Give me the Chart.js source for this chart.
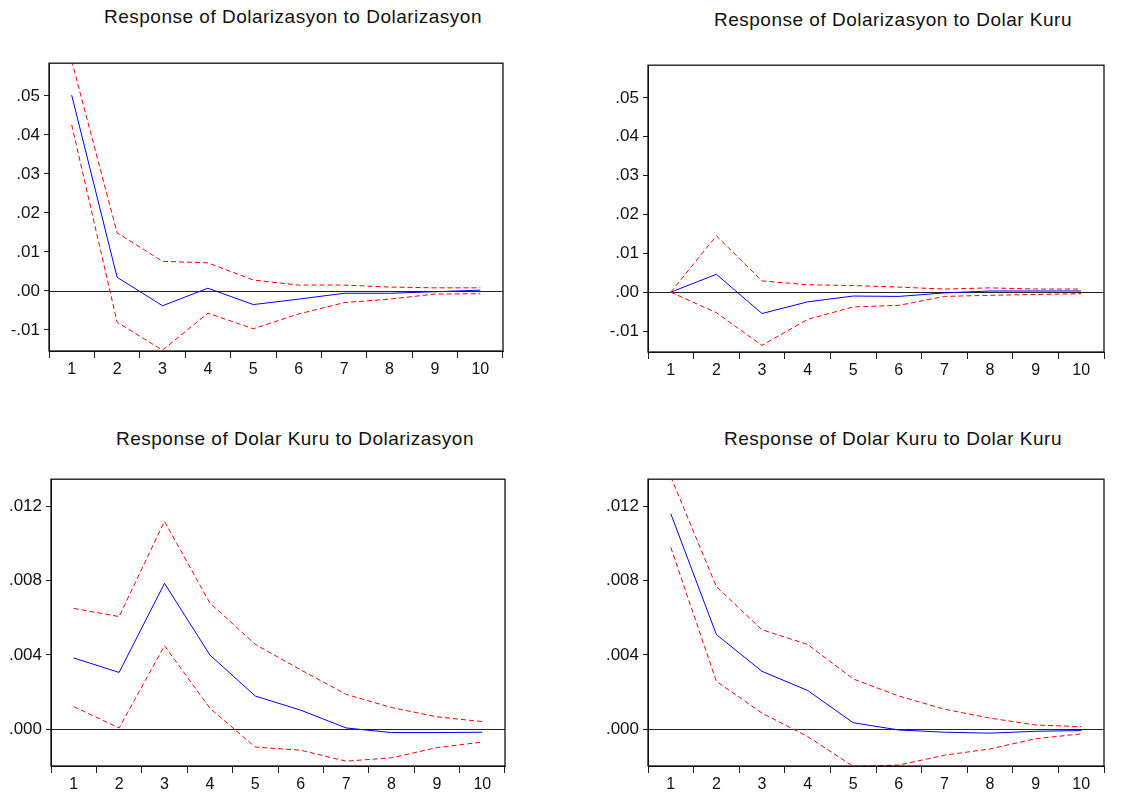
<!DOCTYPE html>
<html>
<head>
<meta charset="utf-8">
<script src="https://cdn.jsdelivr.net/npm/chart.js@4"></script>
<style>
  body { margin: 0; background: #fff; width: 1147px; height: 797px; position: relative; overflow: hidden; }
  canvas { position: absolute; }
  .title {
    position: absolute; width: 500px; text-align: center;
    font-family: "Liberation Sans", Arial, sans-serif; font-size: 19px; line-height: 19px;
    letter-spacing: 0.5px; color: #111; white-space: nowrap;
  }
</style>
</head>
<body>
<div class="title" style="left:43px; top:7px;">Response of Dolarizasyon to Dolarizasyon</div>
<div class="title" style="left:643px; top:10px;">Response of Dolarizasyon to Dolar Kuru</div>
<div class="title" style="left:45px; top:429px;">Response of Dolar Kuru to Dolarizasyon</div>
<div class="title" style="left:643px; top:429px;">Response of Dolar Kuru to Dolar Kuru</div>
<canvas id="c1"></canvas>
<canvas id="c2"></canvas>
<canvas id="c3"></canvas>
<canvas id="c4"></canvas>
<script>
const periods = ['1','2','3','4','5','6','7','8','9','10'];

// Response of Dolarizasyon to Dolarizasyon
const dd_resp  = [0.0502, 0.0035, -0.0038, 0.0007, -0.0035, -0.0021, -0.0006, -0.0006, -0.0002, 0.0002];
const dd_upper = [0.0590, 0.0149, 0.0076, 0.0072, 0.0028, 0.0015, 0.0015, 0.0010, 0.0008, 0.0008];
const dd_lower = [0.0426, -0.0080, -0.0152, -0.0057, -0.0097, -0.0059, -0.0030, -0.0021, -0.0008, -0.0007];

// Response of Dolarizasyon to Dolar Kuru
const dk_resp  = [0, 0.0046, -0.0055, -0.0025, -0.0010, -0.0011, -0.0002, 0.0003, 0.0003, 0.0003];
const dk_upper = [0, 0.0145, 0.0029, 0.0019, 0.0017, 0.0013, 0.0008, 0.0011, 0.0008, 0.0008];
const dk_lower = [0, -0.0053, -0.0137, -0.0070, -0.0038, -0.0034, -0.0011, -0.0008, -0.0006, -0.0004];

// Response of Dolar Kuru to Dolarizasyon
const kd_resp  = [0.00384, 0.00306, 0.00786, 0.00400, 0.00179, 0.00103, 0.00007, -0.00018, -0.00018, -0.00016];
const kd_upper = [0.00651, 0.00607, 0.01120, 0.00680, 0.00457, 0.00320, 0.00188, 0.00117, 0.00067, 0.00041];
const kd_lower = [0.00122, 0.00007, 0.00450, 0.00113, -0.00096, -0.00113, -0.00172, -0.00154, -0.00099, -0.00069];

// Response of Dolar Kuru to Dolar Kuru
const kk_resp  = [0.01161, 0.00510, 0.00312, 0.00209, 0.00035, -0.00004, -0.00016, -0.00021, -0.00011, -0.00007];
const kk_upper = [0.01360, 0.00768, 0.00536, 0.00457, 0.00271, 0.00179, 0.00108, 0.00060, 0.00023, 0.00014];
const kk_lower = [0.00980, 0.00258, 0.00087, -0.00039, -0.00200, -0.00193, -0.00140, -0.00106, -0.00051, -0.00025];

const topRange = [-0.0154, 0.0584];
const botRange = [-0.00198, 0.01347];

const xFont = { family: '"Liberation Sans", Arial, sans-serif', size: 16 };
const yFont = { family: '"Liberation Sans", Arial, sans-serif', size: 17 };

// frame + zero line
const framePlugin = {
  id: 'frame',
  beforeDatasetsDraw(chart) {
    const a = chart.chartArea, ctx = chart.ctx;
    const y0 = Math.round(chart.scales.y.getPixelForValue(0)) + 0.5;
    ctx.save();
    ctx.strokeStyle = '#222';
    ctx.lineWidth = 1;
    ctx.beginPath();
    ctx.moveTo(a.left, y0);
    ctx.lineTo(a.right, y0);
    ctx.stroke();
    ctx.restore();
  },
  afterDraw(chart) {
    const a = chart.chartArea, ctx = chart.ctx;
    ctx.save();
    ctx.strokeStyle = '#111';
    ctx.lineWidth = 1.3;
    ctx.strokeRect(a.left, a.top, a.right - a.left, a.bottom - a.top);
    ctx.restore();
  }
};

function makePanel(id, box, resp, upper, lower, range, step, dec) {
  const cv = document.getElementById(id);
  cv.width = box.r - box.l + 60;
  cv.height = box.b - box.t + 44;
  cv.style.left = (box.l - 50) + 'px';
  cv.style.top = (box.t - 10) + 'px';

  const dashed = { borderColor: '#ff0000', borderWidth: 1, borderDash: [5, 3], pointRadius: 0, fill: false, tension: 0 };

  new Chart(cv, {
    type: 'line',
    data: {
      labels: periods,
      datasets: [
        { data: upper, ...dashed },
        { data: lower, ...dashed },
        { data: resp, borderColor: '#0000ff', borderWidth: 1, pointRadius: 0, fill: false, tension: 0 }
      ]
    },
    options: {
      responsive: false,
      animation: false,
      devicePixelRatio: 1,
      layout: { padding: { top: 10, right: 10, left: 0, bottom: 0 } },
      plugins: { legend: { display: false }, tooltip: { enabled: false } },
      scales: {
        x: {
          offset: true,
          afterFit(s) { s.height = 34; },
          grid: { offset: true, drawOnChartArea: false, tickLength: 7, color: '#222' },
          border: { display: true, color: '#111' },
          ticks: { color: '#111', font: xFont, padding: 2, maxRotation: 0, autoSkip: false }
        },
        y: {
          min: range[0],
          max: range[1],
          afterFit(s) { s.width = 50; },
          grid: { drawOnChartArea: false, tickLength: 5, color: '#222' },
          border: { display: true, color: '#111' },
          ticks: {
            stepSize: step,
            includeBounds: false,
            color: '#111',
            font: yFont,
            padding: 4,
            callback(v) {
              if (Math.abs(v) < 1e-9) v = 0;
              return v.toFixed(dec).replace('0.', '.');
            }
          }
        }
      }
    },
    plugins: [framePlugin]
  });
}

makePanel('c1', { l: 49, t: 59, r: 503, b: 351 }, dd_resp, dd_upper, dd_lower, topRange, 0.01, 2);
makePanel('c2', { l: 648, t: 61, r: 1104, b: 352 }, dk_resp, dk_upper, dk_lower, topRange, 0.01, 2);
makePanel('c3', { l: 51, t: 475, r: 505, b: 766 }, kd_resp, kd_upper, kd_lower, botRange, 0.004, 3);
makePanel('c4', { l: 648, t: 475, r: 1104, b: 766 }, kk_resp, kk_upper, kk_lower, botRange, 0.004, 3);
</script>
</body>
</html>
